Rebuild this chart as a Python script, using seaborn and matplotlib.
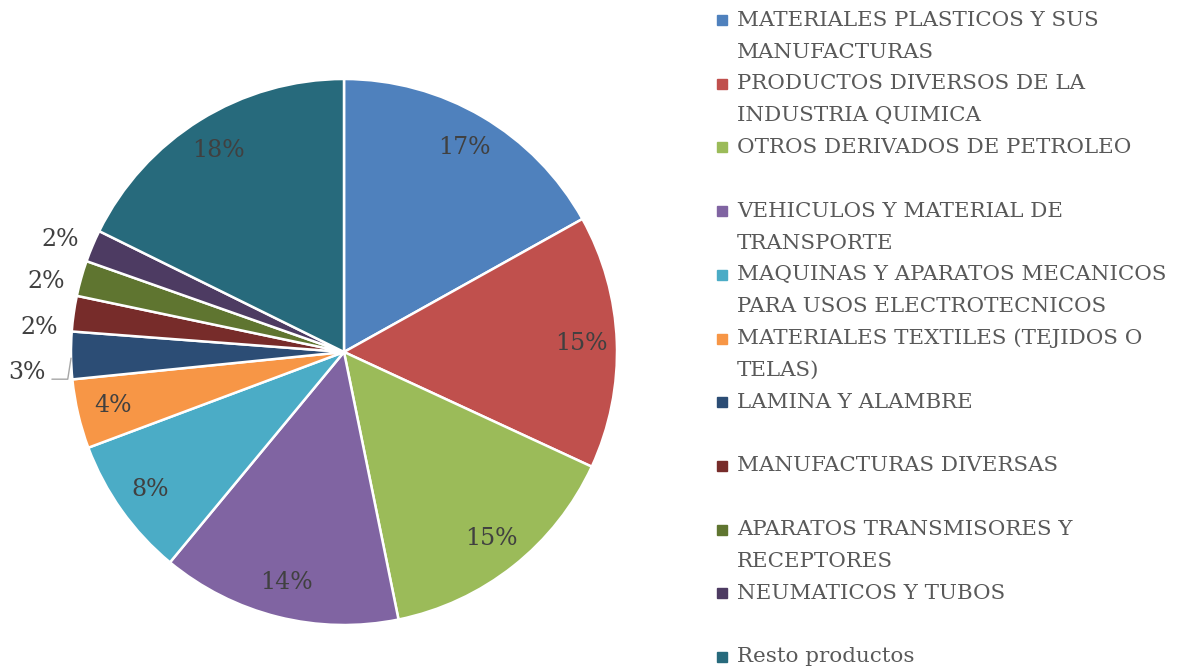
import matplotlib
matplotlib.use("Agg")
import matplotlib.pyplot as plt
import seaborn as sns
import numpy as np

sns.set_theme(style="white")
plt.rcParams['font.family'] = ['DejaVu Serif']

# datos del gráfico (porcentajes)
categorias = [
    "MATERIALES PLASTICOS Y SUS\nMANUFACTURAS",
    "PRODUCTOS DIVERSOS DE LA\nINDUSTRIA QUIMICA",
    "OTROS DERIVADOS DE PETROLEO",
    "VEHICULOS Y MATERIAL DE\nTRANSPORTE",
    "MAQUINAS Y APARATOS MECANICOS\nPARA USOS ELECTROTECNICOS",
    "MATERIALES TEXTILES (TEJIDOS O\nTELAS)",
    "LAMINA Y ALAMBRE",
    "MANUFACTURAS DIVERSAS",
    "APARATOS TRANSMISORES Y\nRECEPTORES",
    "NEUMATICOS Y TUBOS",
    "Resto productos",
]
valores = [16.9, 15.0, 14.9, 14.2, 8.3, 4.1, 2.8, 2.1, 2.1, 1.9, 17.7]
colores = ["#4F81BD", "#C0504D", "#9BBB59", "#8064A2", "#4BACC6", "#F79646",
           "#2C4D75", "#772C2A", "#5F7530", "#4D3B62", "#276A7C"]

# pequeño giro (grados) de las etiquetas externas para separarlas
giro = {7: 3.5, 8: 2.4, 9: 1.2}

W, H = 1178, 670
fig = plt.figure(figsize=(W / 100, H / 100), dpi=100)

# pastel
cx, cy, r = 344, 352, 273
ax = fig.add_axes([(cx - r) / W, (H - cy - r) / H, 2 * r / W, 2 * r / H])
wedges, _ = ax.pie(valores, colors=colores, startangle=90, counterclock=False,
                   wedgeprops=dict(edgecolor="white", linewidth=1.8))
ax.set_xlim(-1, 1)
ax.set_ylim(-1, 1)
ax.set_aspect("equal")
ax.axis("off")

total = sum(valores)
for i, (w, v) in enumerate(zip(wedges, valores)):
    ang = np.deg2rad((w.theta1 + w.theta2) / 2)
    etiqueta = f"{100 * v / total:.0f}%"
    if v < 3:
        if v > 2.4:
            # etiqueta desplazada con línea guía
            x, y = 1.16 * np.cos(ang), 1.16 * np.sin(ang) - 0.06
            ax.text(x, y, etiqueta, ha="center", va="center", color="#404040", fontsize=17)
            x0, y0 = np.cos(ang), np.sin(ang)
            ax.plot([x + 0.09, x0 - 0.012, x0], [y - 0.025, y - 0.025, y0 - 0.01],
                    color="#A6A6A6", lw=1, clip_on=False)
        else:
            a2 = ang + np.deg2rad(giro.get(i, 0))
            x, y = 1.12 * np.cos(a2), 1.12 * np.sin(a2)
            ax.text(x, y, etiqueta, ha="center", va="center", color="#404040", fontsize=17)
    else:
        rr = 0.87
        ax.text(rr * np.cos(ang), rr * np.sin(ang), etiqueta, ha="center", va="center",
                color="#404040", fontsize=17)

# leyenda manual
y0 = 20
paso = 63.7
for i, (cat, col) in enumerate(zip(categorias, colores)):
    yc = y0 + paso * i
    fig.patches.append(plt.Rectangle((717 / W, 1 - (yc + 5) / H), 10 / W, 10 / H,
                                     transform=fig.transFigure, color=col))
    for j, linea in enumerate(cat.split("\n")):
        fig.text(737 / W, 1 - (yc + 32 * j) / H, linea, ha="left", va="center",
                 color="#595959", fontsize=15.4)

fig.savefig("out.png", dpi=100)
